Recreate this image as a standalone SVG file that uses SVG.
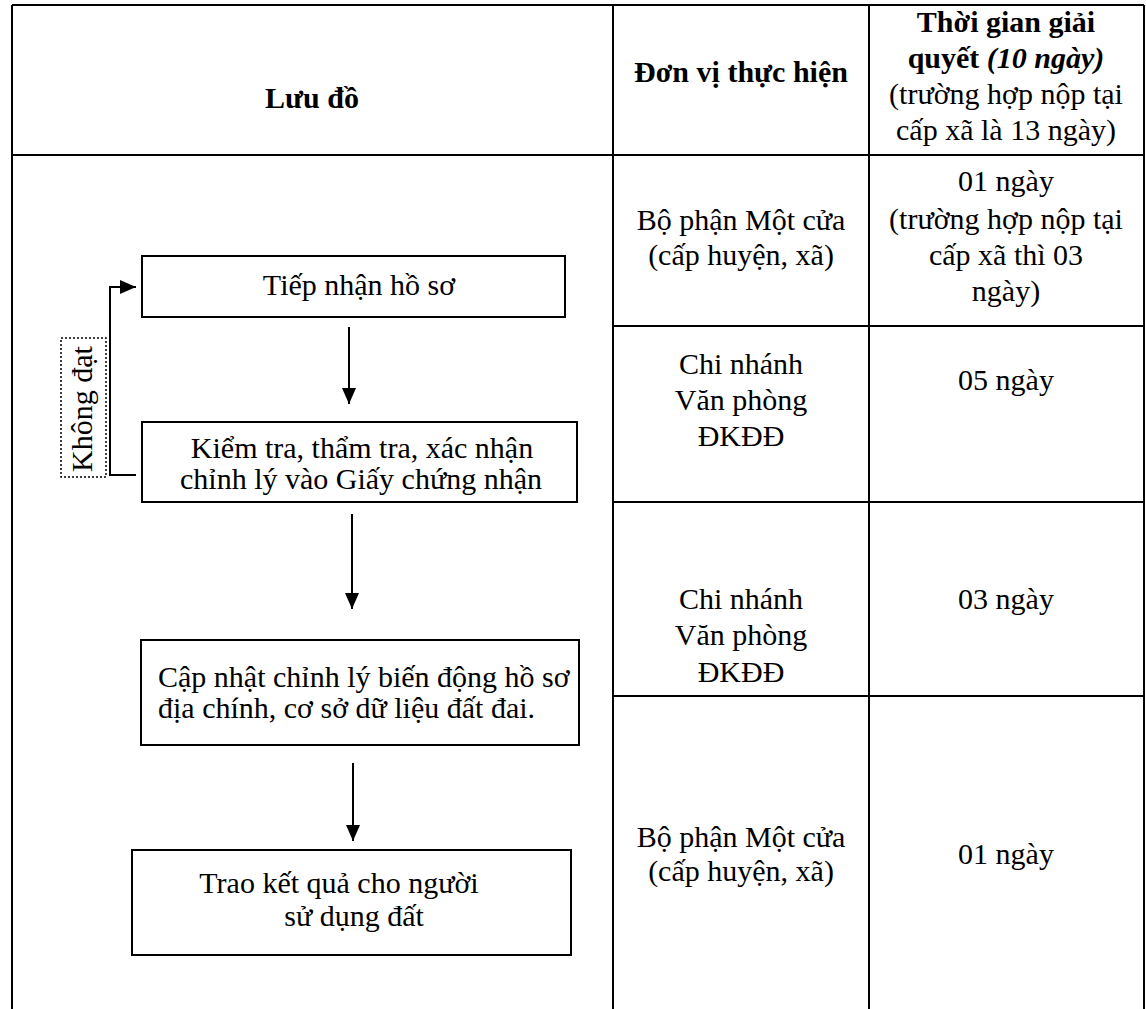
<svg xmlns="http://www.w3.org/2000/svg" width="1146" height="1009" viewBox="0 0 1146 1009">
<style>
.t{font-family:"Liberation Serif","Times New Roman",serif;font-size:30px;fill:#000;text-anchor:middle}
.b{font-weight:bold}
.s{text-anchor:start}
.l{stroke:#000;stroke-width:2;fill:none}
.box{stroke:#000;stroke-width:2;fill:#fff}
</style>
<defs>
<marker id="ah" viewBox="0 0 16 14" refX="16" refY="7" markerWidth="16" markerHeight="14" markerUnits="userSpaceOnUse" orient="auto"><path d="M0,0L16,7L0,14z" fill="#000"/></marker>
</defs>
<rect width="1146" height="1009" fill="#fff"/>
<g id="table">
<line class="l" x1="12" y1="5" x2="1144" y2="5"/>
<line class="l" x1="12" y1="5" x2="12" y2="1009"/>
<line class="l" x1="613" y1="5" x2="613" y2="1009"/>
<line class="l" x1="869" y1="5" x2="869" y2="1009"/>
<line class="l" x1="1144" y1="5" x2="1144" y2="1009"/>
<line class="l" x1="12" y1="155" x2="1144" y2="155"/>
<line class="l" x1="613" y1="326" x2="1144" y2="326"/>
<line class="l" x1="613" y1="502" x2="1144" y2="502"/>
<line class="l" x1="613" y1="696" x2="1144" y2="696"/>
</g>
<g id="header">
<text class="t b" x="312" y="108">Lưu đồ</text>
<text class="t b" x="741" y="82">Đơn vị thực hiện</text>
<text class="t b" x="1006" y="32">Thời gian giải</text>
<text class="t b" x="1006" y="68">quyết <tspan font-style="italic">(10 ngày)</tspan></text>
<text class="t" x="1006" y="104">(trường hợp nộp tại</text>
<text class="t" x="1006" y="140">cấp xã là 13 ngày)</text>
</g>
<g id="rows">
<text class="t" x="741" y="230">Bộ phận Một cửa</text>
<text class="t" x="741" y="265">(cấp huyện, xã)</text>
<text class="t" x="1006" y="191">01 ngày</text>
<text class="t" x="1006" y="229">(trường hợp nộp tại</text>
<text class="t" x="1006" y="265">cấp xã thì 03</text>
<text class="t" x="1006" y="301">ngày)</text>
<text class="t" x="741" y="374">Chi nhánh</text>
<text class="t" x="741" y="410">Văn phòng</text>
<text class="t" x="741" y="446">ĐKĐĐ</text>
<text class="t" x="1006" y="390">05 ngày</text>
<text class="t" x="741" y="609">Chi nhánh</text>
<text class="t" x="741" y="645">Văn phòng</text>
<text class="t" x="741" y="682">ĐKĐĐ</text>
<text class="t" x="1006" y="609">03 ngày</text>
<text class="t" x="741" y="847">Bộ phận Một cửa</text>
<text class="t" x="741" y="881">(cấp huyện, xã)</text>
<text class="t" x="1006" y="864">01 ngày</text>
</g>
<g id="n1"><rect class="box" x="142" y="256" width="423" height="61"/><text class="t" x="359" y="295">Tiếp nhận hồ sơ</text></g>
<g id="n2"><rect class="box" x="142" y="422" width="435" height="80"/><text class="t" x="362" y="458">Kiểm tra, thẩm tra, xác nhận</text><text class="t" x="361" y="489">chỉnh lý vào Giấy chứng nhận</text></g>
<g id="n3"><rect class="box" x="141" y="640" width="438" height="105"/><text class="t s" x="158" y="687">Cập nhật chỉnh lý biến động hồ sơ</text><text class="t s" x="158" y="718">địa chính, cơ sở dữ liệu đất đai.</text></g>
<g id="n4"><rect class="box" x="132" y="850" width="439" height="105"/><text class="t" x="339" y="893">Trao kết quả cho người</text><text class="t" x="354" y="926">sử dụng đất</text></g>
<g id="label"><rect x="61" y="338" width="45" height="139" fill="none" stroke="#000" stroke-width="1.5" stroke-dasharray="2,2"/><text class="t" transform="translate(92,409) rotate(-90)">Không đạt</text></g>
<g id="connectors">
<line class="l" x1="349" y1="327" x2="349" y2="404" marker-end="url(#ah)"/>
<line class="l" x1="352" y1="514" x2="352" y2="609" marker-end="url(#ah)"/>
<line class="l" x1="353" y1="763" x2="353" y2="841" marker-end="url(#ah)"/>
<path class="l" d="M136,475H110V287H136" marker-end="url(#ah)"/>
</g>
</svg>
